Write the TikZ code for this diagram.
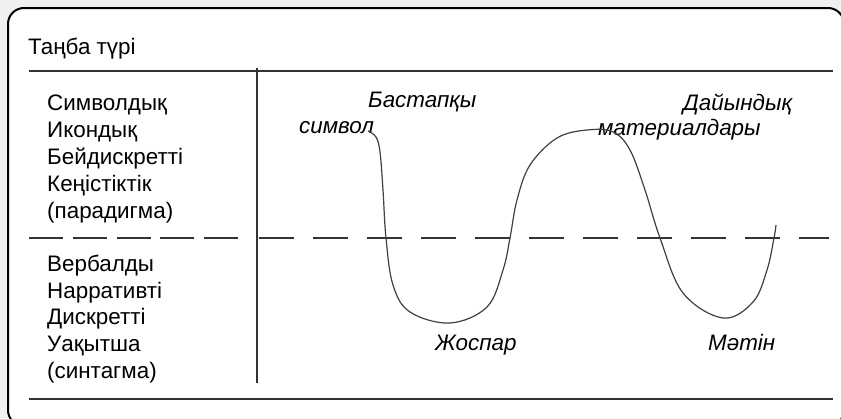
\documentclass[tikz,border=0pt]{standalone}
\usepackage{fontspec}
\setmainfont{Liberation Sans}
\usetikzlibrary{positioning}

\begin{document}
\begin{tikzpicture}[x=1pt, y=-1pt,
    rule/.style={draw=black!80, line width=1.5pt},
    gap/.style={rule, dash pattern=on 35pt off 19pt},
    wave/.style={draw=black!75, line width=1.2pt},
    plain/.style={anchor=base west, inner sep=0pt, font=\fontsize{22.4}{26}\selectfont},
    slanted/.style={plain, font=\fontsize{22.4}{26}\selectfont\itshape}]
    \useasboundingbox (0,0) rectangle (841,418);
    \clip (0,0) rectangle (841,418);
    % Background and frame
    \fill[black!6] (0,0) rectangle (841,418);
    \filldraw[fill=white, line width=2pt, rounded corners=16pt] (8,8) rectangle (844,426);
    % Title
    \node[plain] (title) at (28,54) {Таңба түрі};
    % Rules
    \coordinate (topL) at (29,71);  \coordinate (topR) at (833,71);
    \coordinate (botL) at (29,399); \coordinate (botR) at (833,399);
    \coordinate (midT) at (257,68); \coordinate (midB) at (257,383);
    \draw[rule] (topL) -- (topR);
    \draw[rule] (botL) -- (botR);
    \draw[rule] (midT) -- (midB);
    % Dashed divider
    \coordinate (dashA) at (29,238);  \coordinate (dashB) at (238,238);
    \coordinate (dashC) at (259,238); \coordinate (dashD) at (829,238);
    \draw[rule, dash pattern=on 34pt off 9.75pt] (dashA) -- (dashB);
    \draw[gap] (dashC) -- (dashD);
    % Left column
    \foreach \w [count=\i] in {Символдық, Икондық, Бейдискретті, Кеңістіктік, (парадигма)}
        \node[plain] (para\i) at (47, 83+27*\i) {\w};
    \foreach \w [count=\i] in {Вербалды, Нарративті, Дискретті, Уақытша, (синтагма)}
        \node[plain] (synt\i) at (47, 244.5+26.75*\i) {\w};
    % Stage labels
    \node[slanted] (start1) at (368,107) {Бастапқы};
    \node[slanted] (start2) at (299,133) {символ};
    \node[slanted] (prep1) at (683,110) {Дайындық};
    \node[slanted] (prep2) at (598,135) {материалдары};
    \node[slanted] (plan) at (435,350) {Жоспар};
    \node[slanted] (text) at (708,350) {Мәтін};
    % Wave
    \draw[wave] plot[smooth, tension=0.6] coordinates {
        (368,131) (376,137) (380,152) (383,190) (386,238) (393,285)
        (410,312) (450,323) (487,307) (503,270) (510,238) (517,200)
        (530,165) (557,138) (587,130) (613,132) (630,150) (645,190)
        (660,238) (683,293) (723,318) (753,302) (767,270) (774,238) (776,225)};
\end{tikzpicture}
\end{document}
